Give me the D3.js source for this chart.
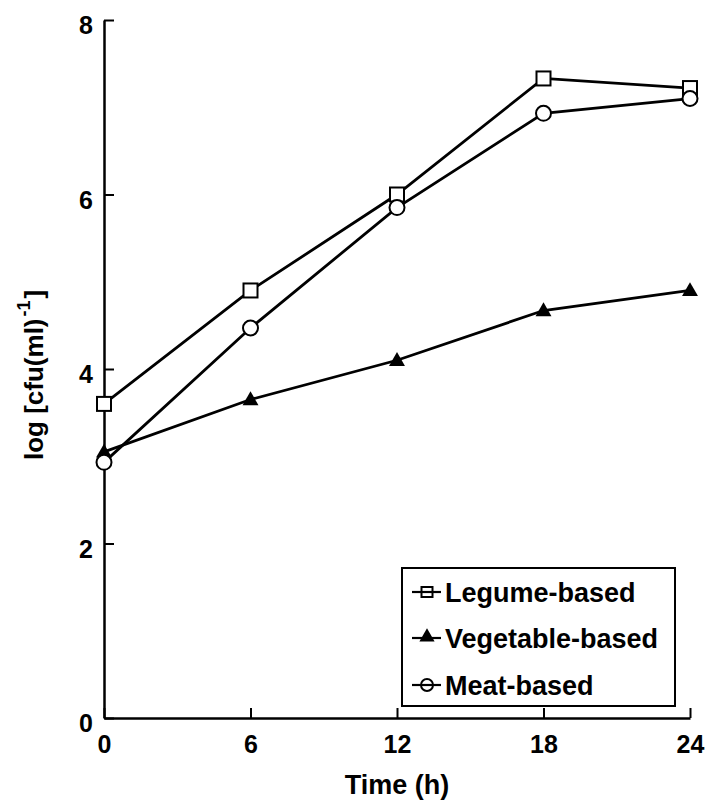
<!DOCTYPE html>
<html>
<head>
<meta charset="utf-8">
<script src="https://cdn.jsdelivr.net/npm/d3@7"></script>
<style>
  html, body { margin: 0; padding: 0; background: #fff; }
  svg { display: block; }
  text { font-family: "Liberation Sans", Arial, Helvetica, sans-serif; fill: #000; }
</style>
</head>
<body>
<svg id="chart" width="710" height="802"></svg>
<script>
const times = [0, 6, 12, 18, 24];
const legume = [3.6, 4.9, 6.0, 7.33, 7.22];
const vegetable = [3.05, 3.65, 4.1, 4.67, 4.9];
const meat = [2.93, 4.47, 5.85, 6.93, 7.1];
const seriesNames = ["Legume-based", "Vegetable-based", "Meat-based"];
const seriesMarkers = ["square", "triangle", "circle"];
const xTicks = [0, 6, 12, 18, 24];
const yTicks = [0, 2, 4, 6, 8];

const svg = d3.select("#chart");
const x = d3.scaleLinear().domain([0, 24]).range([104, 690]);
const y = d3.scaleLinear().domain([0, 8]).range([718, 20]);

// axes
const xAxis = d3.axisBottom(x).tickValues(xTicks).tickSizeInner(-10).tickSizeOuter(0).tickPadding(17);
const yAxis = d3.axisLeft(y).tickValues(yTicks).tickSizeInner(-10).tickSizeOuter(0).tickPadding(11);

const gx = svg.append("g").attr("transform", `translate(0,${y(0)})`).call(xAxis);
const gy = svg.append("g").attr("transform", `translate(${x(0)},0)`).call(yAxis);
[gx, gy].forEach(g => {
  g.select(".domain").attr("stroke", "#000").attr("stroke-width", 2.5);
  g.selectAll(".tick line").attr("stroke", "#000").attr("stroke-width", 2);
  g.selectAll(".tick text").style("font-size", "25px").style("font-weight", "bold")
    .style("font-family", "'Liberation Sans', Arial, sans-serif").attr("fill", "#000");
});
gy.selectAll(".tick text").attr("dy", "0.55em");

// axis titles
svg.append("text").attr("x", 397).attr("y", 794).attr("text-anchor", "middle")
  .style("font-size", "27px").style("font-weight", "bold").text("Time (h)");

const yt = svg.append("text")
  .attr("transform", "translate(43,460) rotate(-90)")
  .attr("text-anchor", "start")
  .style("font-size", "26px").style("font-weight", "bold");
yt.append("tspan").text("log [cfu(ml)");
yt.append("tspan").attr("dy", -13).attr("dx", 2).style("font-size", "18px").text("-1");
yt.append("tspan").attr("dy", 13).attr("dx", 2).text("]");

// series
const data = [legume, vegetable, meat];
const line = d3.line().x((d, i) => x(times[i])).y(d => y(d));

function drawMarker(g, type, cx, cy) {
  if (type === "square") {
    g.append("rect").attr("x", cx - 7).attr("y", cy - 7).attr("width", 14).attr("height", 14)
      .attr("fill", "#fff").attr("stroke", "#000").attr("stroke-width", 2);
  } else if (type === "circle") {
    g.append("circle").attr("cx", cx).attr("cy", cy).attr("r", 7.5)
      .attr("fill", "#fff").attr("stroke", "#000").attr("stroke-width", 2);
  } else {
    g.append("path").attr("d", d3.symbol().type(d3.symbolTriangle).size(110)())
      .attr("transform", `translate(${cx},${cy + 1})`).attr("fill", "#000");
  }
}

data.forEach((vals, si) => {
  svg.append("path").datum(vals).attr("d", line)
    .attr("fill", "none").attr("stroke", "#000").attr("stroke-width", 2.8);
});
data.forEach((vals, si) => {
  const g = svg.append("g");
  vals.forEach((v, i) => drawMarker(g, seriesMarkers[si], x(times[i]), y(v)));
});

// legend
const lg = svg.append("g");
lg.append("rect").attr("x", 402).attr("y", 568).attr("width", 273).attr("height", 138)
  .attr("fill", "#fff").attr("stroke", "#000").attr("stroke-width", 2);
const rowY = [592, 638, 685];
seriesNames.forEach((name, i) => {
  const cy = rowY[i];
  lg.append("line").attr("x1", 412).attr("x2", 441).attr("y1", cy).attr("y2", cy)
    .attr("stroke", "#000").attr("stroke-width", 2.2);
  const mg = lg.append("g");
  if (seriesMarkers[i] === "square") {
    mg.append("rect").attr("x", 421.5).attr("y", cy - 5).attr("width", 11).attr("height", 10)
      .attr("fill", "none").attr("stroke", "#000").attr("stroke-width", 2);
  } else if (seriesMarkers[i] === "circle") {
    mg.append("circle").attr("cx", 427).attr("cy", cy).attr("r", 6)
      .attr("fill", "none").attr("stroke", "#000").attr("stroke-width", 2);
  } else {
    mg.append("path").attr("d", d3.symbol().type(d3.symbolTriangle).size(100)())
      .attr("transform", `translate(427,${cy - 1})`).attr("fill", "#000");
  }
  lg.append("text").attr("x", 445).attr("y", cy + 10)
    .style("font-size", "27px").style("font-weight", "bold").text(name);
});
</script>
</body>
</html>
